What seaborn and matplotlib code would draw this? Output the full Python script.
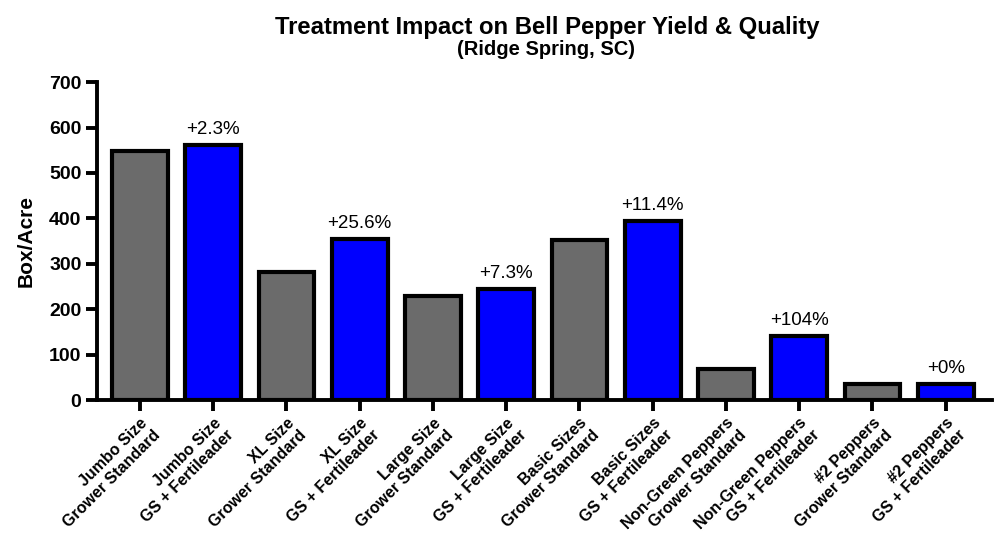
import matplotlib
matplotlib.use("Agg")
import matplotlib.pyplot as plt
import seaborn as sns
import pandas as pd

categories = [
    "Jumbo Size\nGrower Standard", "Jumbo Size\nGS + Fertileader",
    "XL Size\nGrower Standard", "XL Size\nGS + Fertileader",
    "Large Size\nGrower Standard", "Large Size\nGS + Fertileader",
    "Basic Sizes\nGrower Standard", "Basic Sizes\nGS + Fertileader",
    "Non-Green Peppers\nGrower Standard", "Non-Green Peppers\nGS + Fertileader",
    "#2 Peppers\nGrower Standard", "#2 Peppers\nGS + Fertileader",
]
values = [549, 562, 282, 354, 228, 245, 352, 394, 69, 141, 35, 35]
pct_labels = ["", "+2.3%", "", "+25.6%", "", "+7.3%", "", "+11.4%", "", "+104%", "", "+0%"]
treatments = ["GS", "GSF"] * 6
colors = {"GS": "#6b6b6b", "GSF": "#0000ff"}
y_ticks = [0, 100, 200, 300, 400, 500, 600, 700]

sns.set_theme(style="white")
plt.rcParams["font.family"] = ["Liberation Sans", "DejaVu Sans"]
plt.rcParams.update({"text.color": "black", "axes.labelcolor": "black",
                     "xtick.color": "black", "ytick.color": "black"})

df = pd.DataFrame({"cat": categories, "val": values, "trt": treatments})

fig = plt.figure(figsize=(10.08, 5.51), dpi=100)
ax = fig.add_axes([0.096, 0.274, 0.888, 0.577])

sns.barplot(data=df, x="cat", y="val", hue="trt", palette=colors, dodge=False,
            legend=False, width=0.76, edgecolor="black", linewidth=3, ax=ax,
            saturation=1)

for i, (v, lab) in enumerate(zip(values, pct_labels)):
    if lab:
        ax.annotate(lab, (i, v), xytext=(0, 5), textcoords="offset points",
                    ha="center", va="bottom", fontsize=13.5, color="black")

ax.set_ylim(0, 700)
ax.set_xlim(-0.59, 11.63)
ax.set_yticks(y_ticks)
ax.set_yticklabels([str(t) for t in y_ticks], fontsize=14, fontweight="bold")
ax.set_xticks(range(len(categories)))
ax.set_xticklabels(categories, rotation=45, ha="right", rotation_mode="anchor",
                   fontsize=11.5, fontweight="bold")
ax.set_xlabel("")
ax.set_ylabel("Box/Acre", fontsize=15, fontweight="bold", labelpad=10)

for s in ["top", "right"]:
    ax.spines[s].set_visible(False)
for s in ["left", "bottom"]:
    ax.spines[s].set_linewidth(2.8)
    ax.spines[s].set_color("black")
ax.tick_params(axis="both", which="both", direction="out", length=8, width=2.8,
               color="black", left=True, bottom=True, pad=3)

fig.text(0.543, 0.938, "Treatment Impact on Bell Pepper Yield & Quality",
         ha="center", va="baseline", fontsize=17.2, fontweight="bold")
fig.text(0.542, 0.900, "(Ridge Spring, SC)", ha="center", va="baseline",
         fontsize=14.5, fontweight="bold")

fig.savefig("out.png", dpi=100)
